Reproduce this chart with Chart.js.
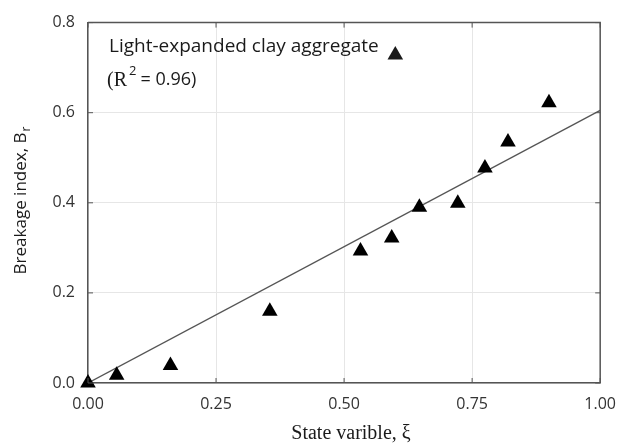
<!DOCTYPE html>
<html>
<head>
<meta charset="utf-8">
<script src="https://cdn.jsdelivr.net/npm/chart.js@4"></script>
<style>
  html, body { margin: 0; padding: 0; background: #fff; }
  #wrap { width: 628px; height: 448px; }
</style>
</head>
<body>
<div id="wrap"><canvas id="main-graph" width="628" height="448"></canvas></div>
<script>
// data
const stateVariable = [0.0, 0.056, 0.161, 0.355, 0.532, 0.593, 0.647, 0.722, 0.775, 0.820, 0.900]
const breakageIndex = [0.0, 0.017, 0.039, 0.159, 0.293, 0.322, 0.390, 0.399, 0.477, 0.535, 0.622]

// fitted line end points
const fitX = [0.0, 1.0]
const fitY = [0.0, 0.605]

// axis ticks
const xTicks = [0.0, 0.25, 0.5, 0.75, 1.0]
const yTicks = [0.0, 0.2, 0.4, 0.6, 0.8]

const seriesLabel = "Light-expanded clay aggregate"
const legendMarker = { x: 0.6, y: 0.728 }

const sansFont = "'Open Sans', 'Noto Sans', sans-serif"
const serifFont = "'Liberation Serif', 'DejaVu Serif', serif"

const drawTriangle = (ctx, x, y, r) => {
    ctx.beginPath()
    ctx.moveTo(x, y - r)
    ctx.lineTo(x + Math.sin(2 * Math.PI / 3) * r, y - Math.cos(2 * Math.PI / 3) * r)
    ctx.lineTo(x + Math.sin(4 * Math.PI / 3) * r, y - Math.cos(4 * Math.PI / 3) * r)
    ctx.closePath()
    ctx.fill()
}

// inward tick marks, legend text and axis titles
const decorations = {
    id: "decorations",
    afterDraw(chart) {
        const ctx = chart.ctx
        const area = chart.chartArea
        const xs = chart.scales.x
        const ys = chart.scales.y
        ctx.save()

        ctx.strokeStyle = "#555"
        ctx.lineWidth = 1
        const len = 5
        xTicks.forEach(v => {
            const px = xs.getPixelForValue(v)
            ctx.beginPath()
            ctx.moveTo(px, area.bottom); ctx.lineTo(px, area.bottom - len)
            ctx.moveTo(px, area.top); ctx.lineTo(px, area.top + len)
            ctx.stroke()
        })
        yTicks.forEach(v => {
            const py = ys.getPixelForValue(v)
            ctx.beginPath()
            ctx.moveTo(area.left, py); ctx.lineTo(area.left + len, py)
            ctx.moveTo(area.right, py); ctx.lineTo(area.right - len, py)
            ctx.stroke()
        })

        // legend
        ctx.fillStyle = "#1a1a1a"
        ctx.textBaseline = "middle"
        ctx.textAlign = "left"
        ctx.font = "19px " + sansFont
        ctx.fillText(seriesLabel, 109, 47)
        drawTriangle(ctx, xs.getPixelForValue(legendMarker.x), ys.getPixelForValue(legendMarker.y), 9)

        // (R^2 = 0.96)
        let x = 107
        ctx.font = "20px " + serifFont
        ctx.fillText("(R", x, 81)
        x += ctx.measureText("(R").width + 2
        ctx.font = "13px " + sansFont
        ctx.fillText("2", x, 71)
        x += ctx.measureText("2").width + 4
        ctx.font = "18px " + sansFont
        ctx.fillText("= 0.96)", x, 80)

        // y axis title with subscript
        ctx.save()
        ctx.translate(21, 201)
        ctx.rotate(-Math.PI / 2)
        ctx.font = "17px " + sansFont
        const main = "Breakage index, B"
        const mw = ctx.measureText(main).width
        ctx.font = "12px " + sansFont
        const sw = ctx.measureText("r").width
        let sx = -(mw + sw) / 2
        ctx.font = "17px " + sansFont
        ctx.fillText(main, sx, 0)
        ctx.font = "12px " + sansFont
        ctx.fillText("r", sx + mw + 1, 6)
        ctx.restore()

        // x axis title
        ctx.textAlign = "center"
        ctx.font = "20px " + serifFont
        ctx.fillText("State varible, \u03be", 351, 434)

        ctx.restore()
    }
}

const MainGraphCTX = document.getElementById("main-graph").getContext("2d")

const MainGraph = new Chart(MainGraphCTX, {
    type: "scatter",
    data: {
        datasets: [
            {
                label: seriesLabel,
                data: stateVariable.map((v, i) => ({ x: v, y: breakageIndex[i] })),
                pointStyle: "triangle",
                pointRadius: 9,
                backgroundColor: "#000",
                borderColor: "#000",
                borderWidth: 0,
                clip: false
            },
            {
                label: "fit",
                data: fitX.map((v, i) => ({ x: v, y: fitY[i] })),
                showLine: true,
                pointRadius: 0,
                borderColor: "#555",
                borderWidth: 1.3
            }
        ]
    },
    options: {
        responsive: false,
        animation: false,
        devicePixelRatio: 1,
        layout: { padding: { top: 18, right: 19, left: 0, bottom: 0 } },
        plugins: {
            legend: { display: false },
            tooltip: { enabled: false }
        },
        scales: {
            x: {
                type: "linear",
                min: 0,
                max: 1,
                afterBuildTicks: scale => { scale.ticks = xTicks.map(v => ({ value: v })) },
                afterFit: scale => { scale.height = 65 },
                ticks: {
                    padding: 12,
                    color: "#333",
                    font: { family: sansFont, size: 16 },
                    callback: v => v.toFixed(2),
                    maxRotation: 0
                },
                grid: {
                    drawTicks: false,
                    color: "#e6e6e6",
                    lineWidth: 1
                },
                border: { display: true, color: "#555", width: 1.5 }
            },
            y: {
                type: "linear",
                min: 0,
                max: 0.8,
                afterBuildTicks: scale => { scale.ticks = yTicks.map(v => ({ value: v })) },
                afterFit: scale => { scale.width = 88 },
                ticks: {
                    padding: 13,
                    color: "#333",
                    font: { family: sansFont, size: 16 },
                    callback: v => v.toFixed(1)
                },
                grid: {
                    drawTicks: false,
                    color: "#e6e6e6",
                    lineWidth: 1
                },
                border: { display: true, color: "#555", width: 1.5 }
            }
        }
    },
    plugins: [decorations, {
        id: "frame",
        afterDatasetsDraw(chart) {
            const a = chart.chartArea
            const ctx = chart.ctx
            ctx.save()
            ctx.strokeStyle = "#555"
            ctx.lineWidth = 1.5
            ctx.beginPath()
            ctx.moveTo(a.left, a.top); ctx.lineTo(a.right, a.top); ctx.lineTo(a.right, a.bottom)
            ctx.stroke()
            ctx.restore()
        }
    }]
})
</script>
</body>
</html>
